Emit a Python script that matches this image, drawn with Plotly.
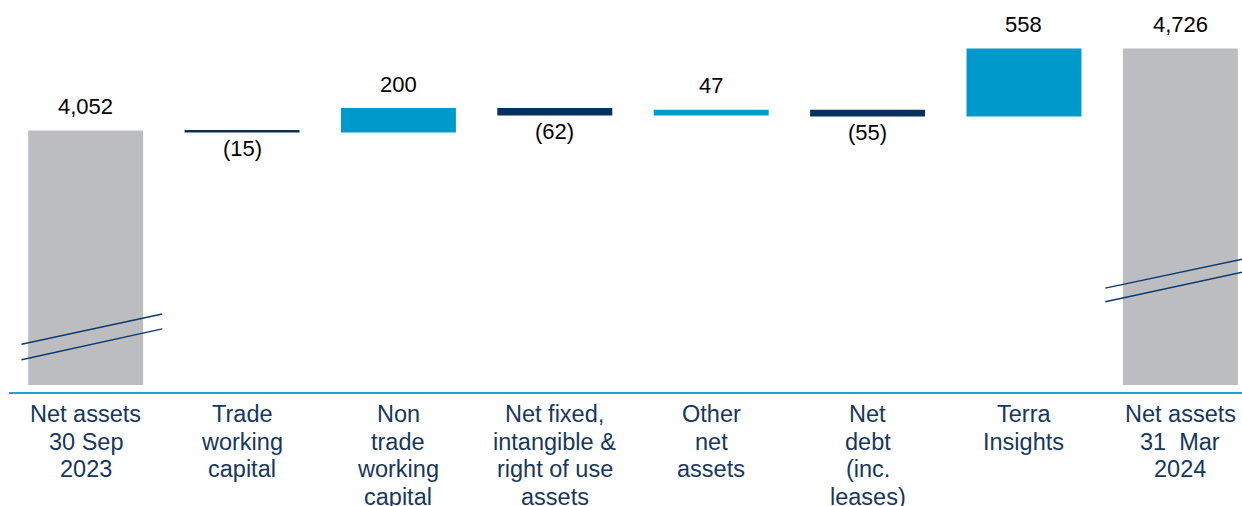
import plotly.graph_objects as go

categories = ["Net assets<br>30 Sep<br>2023", "Trade<br>working<br>capital",
              "Non<br>trade<br>working<br>capital",
              "Net fixed,<br>intangible &<br>right of use<br>assets",
              "Other<br>net<br>assets", "Net<br>debt<br>(inc.<br>leases)",
              "Terra<br>Insights", "Net assets<br>31  Mar<br>2024"]
values = [4052, -15, 200, -62, 47, -55, 558, 4726]
kinds = ["total", "delta", "delta", "delta", "delta", "delta", "delta", "total"]
value_labels = ["4,052", "(15)", "200", "(62)", "47", "(55)", "558", "4,726"]

BREAK_BASE = 1965  # axis is broken; bars for totals start here

GREY = "#BCBDC1"
LIGHT = "#0099CC"
NAVY = "#06305E"
TICK = "#17375E"
FONT = "Liberation Sans, Arial"

bases, heights, colors = [], [], []
running = 0
for v, k in zip(values, kinds):
    if k == "total":
        bases.append(BREAK_BASE)
        heights.append(v - BREAK_BASE)
        colors.append(GREY)
        running = v
    else:
        bases.append(running)
        heights.append(v)
        colors.append(LIGHT if v > 0 else NAVY)
        running += v

xs = list(range(len(categories)))

fig = go.Figure()
fig.add_trace(go.Bar(x=xs, y=heights, base=bases, marker=dict(color=colors, line=dict(width=0)),
                     width=0.735, hoverinfo="skip"))

annotations = []
for i, (b, h, lab) in enumerate(zip(bases, heights, value_labels)):
    annotations.append(dict(x=i, y=b + h, xref="x", yref="y", text=lab, showarrow=False,
                            yanchor="middle", yshift=24 if h >= 0 else -16,
                            font=dict(family=FONT, size=22, color="#000000")))

# category labels, one annotation per line to match the original line spacing
for i, cat in enumerate(categories):
    for k, line in enumerate(cat.split("<br>")):
        annotations.append(dict(x=i, y=0, xref="x", yref="paper", text=line, showarrow=False,
                                yanchor="middle", xanchor="center", yshift=-22 - 27.6 * k,
                                font=dict(family=FONT, size=23.5, color=TICK)))

shapes = []
# axis-break markers
for (x0, x1, ya0, ya1) in [(-0.41, 0.49, 0.122, 0.199), (-0.41, 0.49, 0.082, 0.161),
                           (6.52, 7.40, 0.265, 0.339), (6.52, 7.40, 0.230, 0.306)]:
    shapes.append(dict(type="line", xref="x", yref="y domain", x0=x0, x1=x1, y0=ya0, y1=ya1,
                       line=dict(color="#0B3A6E", width=1.5), layer="above"))

fig.update_layout(
    width=1242, height=506,
    margin=dict(l=9, r=0, t=0, b=114),
    plot_bgcolor="white", paper_bgcolor="white",
    showlegend=False,
    annotations=annotations,
    shapes=shapes,
    xaxis=dict(range=[-0.49, 7.394], tickvals=xs, showticklabels=False,
               showgrid=False, zeroline=False, showline=True, linecolor="#1AA3DA", linewidth=1.5,
               ticks=""),
    yaxis=dict(range=[1908, 5123], visible=False, showgrid=False, zeroline=False),
)

fig.write_html("out.html", config={"displayModeBar": False},
               post_script="document.body.style.margin='0px';")
